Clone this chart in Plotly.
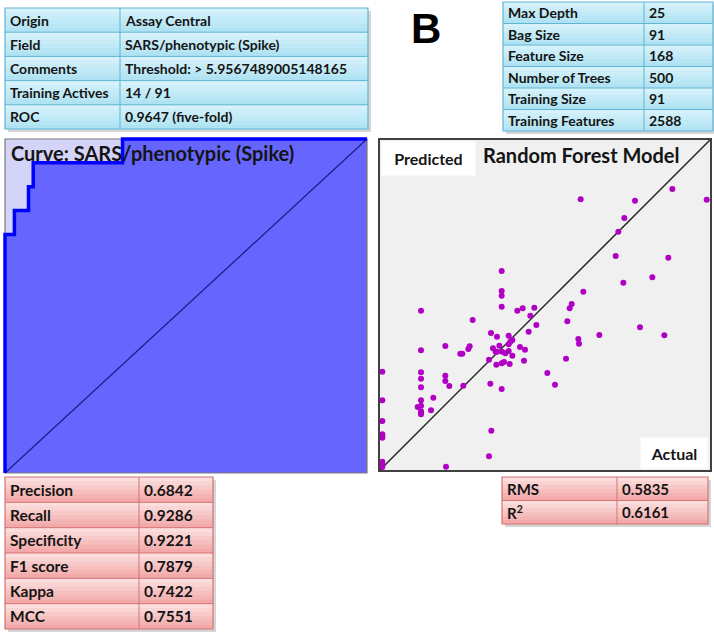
import plotly.graph_objects as go

W, H = 714, 637

# ---------------- data ----------------
info_labels = ["Origin", "Field", "Comments", "Training Actives", "ROC"]
info_values = ["Assay Central", "SARS/phenotypic (Spike)", "Threshold: > 5.9567489005148165",
               "14 / 91", "0.9647 (five-fold)"]

rf_labels = ["Max Depth", "Bag Size", "Feature Size", "Number of Trees", "Training Size", "Training Features"]
rf_values = ["25", "91", "168", "500", "91", "2588"]

metric_labels = ["Precision", "Recall", "Specificity", "F1 score", "Kappa", "MCC"]
metric_values = ["0.6842", "0.9286", "0.9221", "0.7879", "0.7422", "0.7551"]

reg_labels = ["RMS", "R<sup>2</sup>"]
reg_values = ["0.5835", "0.6161"]

# ROC step curve (false positives out of 77 inactives, true positives out of 14 actives)
roc_fp = [0, 0, 2, 2, 5, 5, 6, 6, 25, 25, 77]
roc_tp = [0, 10, 10, 11, 11, 12, 12, 13, 13, 14, 14]
n_inactive, n_active = 77, 14

# Random forest: actual vs predicted (arbitrary units)
actual = [6.02, 7.65, 8.77, 9.80, 7.33, 7.15, 7.07, 8.65, 7.30, 8.17, 6.10, 3.65, 3.65, 3.65, 3.65,
          1.23, 4.12, 4.28, 4.63, 4.51, 5.75, 5.69, 2.78, 5.62, 4.69, 4.46, 3.33, 3.51, 3.86, 6.58,
          7.80, 8.53, 5.95, 5.97, 3.97, 3.91, 3.86, 3.58, 3.39, 3.47, 3.66, 3.76, 3.86, 4.20, 4.35,
          3.97, 1.96, 2.69, 2.65, 2.47, 2.41, 1.23, 3.27, 4.32, 5.58, 3.49, 3.65, 3.72, 3.89, 0.07,
          1.23, 1.23, 1.23, 1.96, 1.96, 2.08, 2.50, 3.31, 3.65, 5.02, 5.25, 1.60, 1.23, 0.07, 1.13,
          1.23, 1.23, 1.23, 1.53, 0.07, 3.34, 0.07, 0.07, 3.27, 1.98, 0.07, 0.07, 0.07, 1.23, 0.07,
          3.51]
predicted = [8.12, 8.08, 8.43, 8.11, 7.56, 7.15, 6.42, 6.37, 5.62, 5.78, 5.35, 5.97, 5.37, 5.23, 4.90,
             4.78, 4.78, 4.85, 4.87, 4.63, 4.98, 4.85, 4.50, 4.46, 4.35, 4.15, 4.11, 4.00, 4.03, 4.05,
             4.28, 4.04, 3.93, 3.79, 3.90, 3.85, 3.77, 3.73, 3.65, 3.55, 3.55, 3.50, 3.57, 3.69, 3.61,
             3.43, 3.72, 3.71, 3.63, 3.49, 3.49, 3.59, 3.31, 3.28, 3.34, 3.16, 3.20, 3.24, 3.18, 2.95,
             2.93, 2.74, 2.48, 2.83, 2.67, 2.52, 2.53, 2.59, 2.43, 2.91, 2.56, 2.17, 2.09, 2.09, 1.89,
             1.93, 1.76, 1.67, 1.79, 1.47, 1.18, 1.07, 0.97, 0.41, 0.10, 0.25, 0.15, 0.09, 1.72, 1.02,
             3.55]
axis_lo, axis_hi = 0.0, 9.9

# ---------------- helpers ----------------
def px_x(p):
    return p / W

def px_y(p):
    return 1 - p / H

def mix(c1, c2, t):
    a = [int(c1[i:i + 2], 16) for i in (1, 3, 5)]
    b = [int(c2[i:i + 2], 16) for i in (1, 3, 5)]
    return "#" + "".join(f"{round(a[k] + (b[k] - a[k]) * t):02X}" for k in range(3))

FONT = "Lato"
TXT = "#141414"

fig = go.Figure()
shapes = []
annotations = []

# ---------------- ROC panel ----------------
fpr = [v / n_inactive for v in roc_fp]
tpr = [v / n_active for v in roc_tp]

fig.add_trace(go.Scatter(x=fpr, y=tpr, mode="lines", line=dict(width=0, shape="hv"),
                         fill="tozeroy", fillcolor="#6666FF", hoverinfo="skip",
                         xaxis="x", yaxis="y", showlegend=False))
fig.add_trace(go.Scatter(x=[0, 1, 1, 0, 0], y=[0, 0, 1, 1, 0], mode="lines",
                         line=dict(color="#7A7A7A", width=1.2), hoverinfo="skip",
                         xaxis="x", yaxis="y", showlegend=False))
fig.add_trace(go.Scatter(x=[0, 1], y=[0, 1], mode="lines",
                         line=dict(color="#1E1E8A", width=1.3), hoverinfo="skip",
                         xaxis="x", yaxis="y", showlegend=False))
fig.add_trace(go.Scatter(x=fpr, y=tpr, mode="lines", line=dict(color="#0000FF", width=3.5, shape="hv"),
                         hoverinfo="skip", xaxis="x", yaxis="y", showlegend=False))
shapes.append(dict(type="rect", xref="x", yref="y", x0=0, y0=0, x1=1, y1=1,
                   fillcolor="#D4D4F8", line=dict(width=0), layer="below"))

# ---------------- scatter panel ----------------
fig.add_trace(go.Scatter(x=[axis_lo, axis_hi], y=[axis_lo, axis_hi], mode="lines",
                         line=dict(color="#262626", width=1.5), hoverinfo="skip",
                         xaxis="x2", yaxis="y2", showlegend=False))
fig.add_trace(go.Scatter(x=actual, y=predicted, mode="markers",
                         marker=dict(color="#B000C4", size=6),
                         xaxis="x2", yaxis="y2", showlegend=False))
shapes.append(dict(type="rect", xref="x2", yref="y2", x0=axis_lo, y0=axis_lo, x1=axis_hi, y1=axis_hi,
                   fillcolor="#F0F0F0", line=dict(width=0), layer="below"))

# ---------------- tables (cells built from the label/value lists) ----------------
def draw_table(labels, values, x0, xs, x1, y0, y1, c_top, c_bot, line_color, size, bands=6):
    n = len(labels)
    rh = (y1 - y0) / n
    # soft shadow
    shapes.append(dict(type="rect", xref="paper", yref="paper",
                       x0=px_x(x0 + 3), x1=px_x(x1 + 3), y0=px_y(y1 + 3), y1=px_y(y0 + 3),
                       fillcolor="rgba(0,0,0,0.16)", line=dict(width=0), layer="below"))
    for i in range(n):
        top = y0 + i * rh
        for b in range(bands):
            t = (b + 0.5) / bands
            shapes.append(dict(type="rect", xref="paper", yref="paper",
                               x0=px_x(x0), x1=px_x(x1),
                               y0=px_y(top + (b + 1) * rh / bands + 0.3), y1=px_y(top + b * rh / bands),
                               fillcolor=mix(c_top, c_bot, t), line=dict(width=0), layer="below"))
        if i > 0:
            shapes.append(dict(type="line", xref="paper", yref="paper",
                               x0=px_x(x0), x1=px_x(x1), y0=px_y(top), y1=px_y(top),
                               line=dict(color=line_color, width=1)))
        yc = px_y(top + rh / 2)
        annotations.append(dict(text=f"<b>{labels[i]}</b>", x=px_x(x0 + 3), y=yc,
                                xref="paper", yref="paper", xanchor="left", yanchor="middle",
                                showarrow=False, font=dict(family=FONT, size=size, color=TXT)))
        annotations.append(dict(text=f"<b>{values[i]}</b>", x=px_x(xs + 3), y=yc,
                                xref="paper", yref="paper", xanchor="left", yanchor="middle",
                                showarrow=False, font=dict(family=FONT, size=size, color=TXT)))
    shapes.append(dict(type="line", xref="paper", yref="paper",
                       x0=px_x(xs), x1=px_x(xs), y0=px_y(y1), y1=px_y(y0),
                       line=dict(color=line_color, width=1)))
    shapes.append(dict(type="rect", xref="paper", yref="paper",
                       x0=px_x(x0), x1=px_x(x1), y0=px_y(y1), y1=px_y(y0),
                       line=dict(color=line_color, width=1.2)))

CY_T, CY_B, CY_L = "#DAF4FB", "#ABE1F2", "#62B4D3"
PK_T, PK_B, PK_L = "#FDE3E3", "#F2A4A4", "#D27474"

draw_table(info_labels, info_values, 5, 120, 368, 8, 129, CY_T, CY_B, CY_L, 14)
draw_table(rf_labels, rf_values, 503, 644, 713, 2, 131, CY_T, CY_B, CY_L, 14)
draw_table(metric_labels, metric_values, 5, 139, 213, 477, 629, PK_T, PK_B, PK_L, 15.5)
draw_table(reg_labels, reg_values, 502, 617, 708, 477, 524, PK_T, PK_B, PK_L, 15)

# ---------------- text labels ----------------
annotations += [
    dict(text="<b>B</b>", x=px_x(426), y=px_y(29), xref="paper", yref="paper",
         xanchor="center", yanchor="middle", showarrow=False,
         font=dict(family="Liberation Sans", size=42, color="black")),
    dict(text="<b>Curve: SARS/phenotypic (Spike)</b>", x=px_x(9), y=px_y(153),
         xref="paper", yref="paper", xanchor="left", yanchor="middle", showarrow=False,
         font=dict(family=FONT, size=20, color=TXT)),
    dict(text="<b>Random Forest Model</b>", x=px_x(581), y=px_y(155),
         xref="paper", yref="paper", xanchor="center", yanchor="middle", showarrow=False,
         font=dict(family=FONT, size=20, color=TXT)),
    dict(text="<b>Predicted</b>", x=px_x(381), y=px_y(141), xref="paper", yref="paper",
         xanchor="left", yanchor="top", showarrow=False, bgcolor="white",
         width=91, height=31, font=dict(family=FONT, size=16, color=TXT)),
    dict(text="<b>Actual</b>", x=px_x(708), y=px_y(469), xref="paper", yref="paper",
         xanchor="right", yanchor="bottom", showarrow=False, bgcolor="white",
         width=64, height=28, font=dict(family=FONT, size=16, color=TXT)),
]

# ---------------- layout ----------------
roc_x0, roc_x1, roc_y0, roc_y1 = 5, 367, 139, 473
pad = 2
sx = roc_x1 - roc_x0
sy = roc_y1 - roc_y0

noax = dict(showgrid=False, zeroline=False, showticklabels=False, ticks="")

fig.update_layout(
    width=W, height=H, margin=dict(l=0, r=0, t=0, b=0),
    paper_bgcolor="white", plot_bgcolor="rgba(0,0,0,0)",
    hovermode=False,
    xaxis=dict(domain=[px_x(roc_x0 - pad), px_x(roc_x1 + pad)],
               range=[-pad / sx, 1 + pad / sx], **noax),
    yaxis=dict(domain=[px_y(roc_y1 + pad), px_y(roc_y0 - pad)],
               range=[-pad / sy, 1 + pad / sy], **noax),
    xaxis2=dict(domain=[px_x(380), px_x(710)], range=[axis_lo, axis_hi], anchor="y2",
                showline=True, mirror=True, linecolor="#404040", linewidth=1.5, **noax),
    yaxis2=dict(domain=[px_y(470), px_y(140)], range=[axis_lo, axis_hi], anchor="x2",
                showline=True, mirror=True, linecolor="#404040", linewidth=1.5, **noax),
    shapes=shapes,
    annotations=annotations,
)

fig.write_html("out.html", config={"displayModeBar": False},
               post_script="document.body.style.margin='0px';")
